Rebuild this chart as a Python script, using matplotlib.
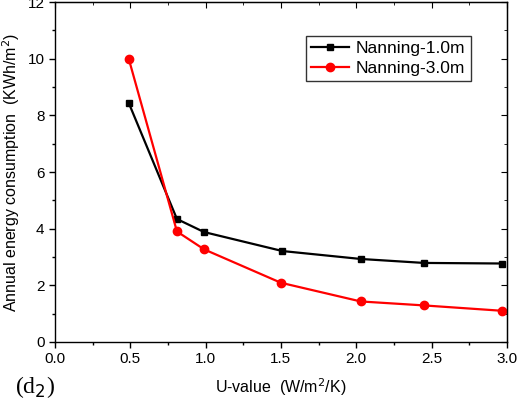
import matplotlib
matplotlib.use("Agg")
import matplotlib.pyplot as plt
from matplotlib.ticker import MultipleLocator

u_1m = [0.49, 0.81, 0.99, 1.51, 2.03, 2.45, 2.97]
energy_1m = [8.44, 4.34, 3.88, 3.21, 2.93, 2.79, 2.77]
u_3m = [0.49, 0.81, 0.99, 1.50, 2.03, 2.45, 2.97]
energy_3m = [10.0, 3.9, 3.27, 2.09, 1.43, 1.29, 1.10]

plt.rcParams["font.family"] = ["Liberation Sans", "DejaVu Sans"]

fig = plt.figure(figsize=(5.28, 4.15), dpi=100)
ax = fig.add_axes([0.104, 0.176, 0.856, 0.819])

ax.plot(u_1m, energy_1m, color="black", marker="s", markersize=5, lw=1.6, label="Nanning-1.0m")
ax.plot(u_3m, energy_3m, color="red", marker="o", markersize=6, lw=1.6, label="Nanning-3.0m")

ax.set_xlim(0, 3.0)
ax.set_ylim(0, 12)
ax.xaxis.set_major_locator(MultipleLocator(0.5))
ax.xaxis.set_minor_locator(MultipleLocator(0.25))
ax.yaxis.set_major_locator(MultipleLocator(2))
ax.yaxis.set_minor_locator(MultipleLocator(1))
ax.xaxis.set_major_formatter(plt.FormatStrFormatter("%.1f"))
ax.tick_params(which="both", direction="out", labelsize=11, width=1)
ax.tick_params(which="major", length=4)
ax.tick_params(which="minor", length=2.5)
for s in ax.spines.values():
    s.set_linewidth(1)

# inward ticks on top and right
ax2 = ax.secondary_xaxis("top")
ax2.xaxis.set_major_locator(MultipleLocator(0.5))
ax2.xaxis.set_minor_locator(MultipleLocator(0.25))
ax2.tick_params(which="both", direction="in", labeltop=False)
ax2.tick_params(which="major", length=4)
ax2.tick_params(which="minor", length=2.5)
ay2 = ax.secondary_yaxis("right")
ay2.yaxis.set_major_locator(MultipleLocator(2))
ay2.yaxis.set_minor_locator(MultipleLocator(1))
ay2.tick_params(which="both", direction="in", labelright=False)
ay2.tick_params(which="major", length=4)
ay2.tick_params(which="minor", length=2.5)

ax.set_xlabel("U-value  (W/m$^2$/K)", fontsize=11.5, labelpad=7)
ax.set_ylabel("Annual energy consumption  (KWh/m$^2$)", fontsize=11.5, labelpad=4)

leg = ax.legend(loc="upper right", bbox_to_anchor=(0.92, 0.9), fontsize=12.5, frameon=True,
                fancybox=False, edgecolor="black", handlelength=2.2, borderpad=0.3,
                labelspacing=0.25, handletextpad=0.4, borderaxespad=0)
leg.get_frame().set_linewidth(1)

fig.text(0.028, 0.052, "(d$_2$)", fontsize=17, family="Liberation Serif")

fig.savefig("out.png", dpi=100)
